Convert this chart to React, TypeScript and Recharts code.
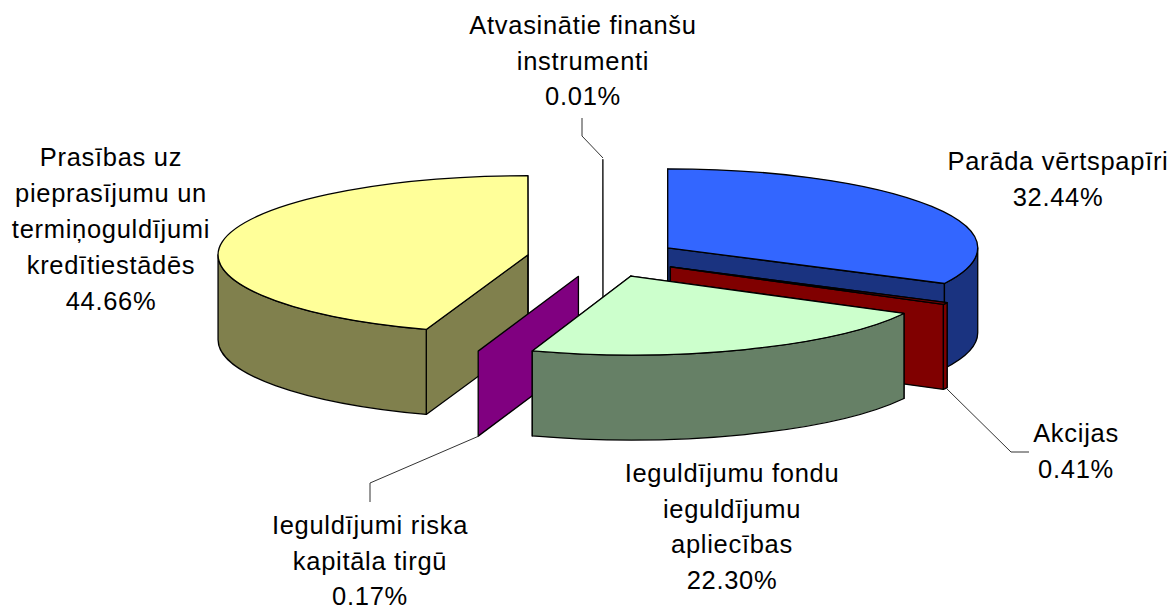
import { Pie, PieChart } from "recharts";

const NAMES = [
  "Parāda vērtspapīri",
  "Akcijas",
  "Ieguldījumu fondu ieguldījumu apliecības",
  "Ieguldījumi riska kapitāla tirgū",
  "Prasības uz pieprasījumu un termiņoguldījumi kredītiestādēs",
  "Atvasinātie finanšu instrumenti",
];
const VALUES = [32.44, 0.41, 22.3, 0.17, 44.66, 0.01];
const TOP_COLORS = ["#3366ff", "#800000", "#ccffcc", "#800080", "#ffff99", "#ccffff"];
const SIDE_COLORS = ["#1a3380", "#800000", "#668066", "#800080", "#80804d", "#668080"];
const LABEL_LINES = [
  ["Parāda vērtspapīri"],
  ["Akcijas"],
  ["Ieguldījumu fondu", "ieguldījumu", "apliecības"],
  ["Ieguldījumi riska", "kapitāla tirgū"],
  ["Prasības uz", "pieprasījumu un", "termiņoguldījumi", "kredītiestādēs"],
  ["Atvasinātie finanšu", "instrumenti"],
];

// back to front, the slices overlap each other
const DRAW_ORDER = [5, 0, 1, 4, 3, 2];

const CX = 603;
const CY = 258;
const RADIUS = 310;
const SQUASH = 0.255;
const DEPTH = 85;
const EXPLODE = 76;
const RAD = Math.PI / 180;

const LABEL_POS = [
  { x: 1058, y: 170, step: 36 },
  { x: 1076, y: 442, step: 36 },
  { x: 732, y: 482, step: 35.5 },
  { x: 370, y: 534, step: 35.5 },
  { x: 111, y: 166, step: 36 },
  { x: 583, y: 34, step: 35.5 },
];
const LEADERS: Record<number, string> = {
  1: "947,389 1011,452 1029,452",
  3: "479,436 370,483 370,502",
  5: "603,158 582,136 582,118",
};

const pieData = NAMES.map((name, i) => ({ name, value: VALUES[i], fill: TOP_COLORS[i] }));

function Slice3D(props: any) {
  const { cx, cy, outerRadius: r, startAngle, endAngle } = props;
  const idx = NAMES.indexOf(props.name ?? props.payload?.name);
  const midDeg = (startAngle + endAngle) / 2;
  const mid = midDeg * RAD;
  const ox = cx + EXPLODE * Math.cos(mid);
  const oy = cy - EXPLODE * Math.sin(mid) * SQUASH;
  const ry = r * SQUASH;

  const rim = (deg: number, drop = 0) =>
    `${ox + r * Math.cos(deg * RAD)} ${oy - ry * Math.sin(deg * RAD) + drop}`;
  const large = startAngle - endAngle > 180 ? 1 : 0;

  const cutFace = (deg: number) =>
    `M${ox} ${oy}L${rim(deg)}L${rim(deg, DEPTH)}L${ox} ${oy + DEPTH}Z`;

  const side = SIDE_COLORS[idx];
  const stroke = { stroke: "#000", strokeWidth: 1.3, strokeLinejoin: "round" as const };

  // slices under a degree read as one flat face
  if (startAngle - endAngle < 1) {
    return <path d={cutFace(midDeg)} fill={side} {...stroke} />;
  }

  // only the front half of the rim shows a wall
  const wallStart = Math.min(startAngle, 0);
  const wallEnd = Math.max(endAngle, -180);

  return (
    <g {...stroke}>
      <path d={cutFace(startAngle)} fill={side} />
      <path d={cutFace(endAngle)} fill={side} />
      {wallStart > wallEnd && (
        <path
          d={`M${rim(wallStart)}A${r} ${ry} 0 0 1 ${rim(wallEnd)}L${rim(wallEnd, DEPTH)}A${r} ${ry} 0 0 0 ${rim(wallStart, DEPTH)}Z`}
          fill={side}
        />
      )}
      <path
        d={`M${ox} ${oy}L${rim(startAngle)}A${r} ${ry} 0 ${large} 1 ${rim(endAngle)}Z`}
        fill={TOP_COLORS[idx]}
      />
    </g>
  );
}

function SliceLabel(props: any) {
  const idx = NAMES.indexOf(props.name ?? props.payload?.name);
  const pos = LABEL_POS[idx];
  const lines = [...LABEL_LINES[idx], `${VALUES[idx].toFixed(2)}%`];
  return (
    <g>
      {LEADERS[idx] && <polyline points={LEADERS[idx]} fill="none" stroke="#333" strokeWidth={1} />}
      <text
        textAnchor="middle"
        fontFamily="'Liberation Sans', Arial, sans-serif"
        fontSize={25.5}
        letterSpacing={0.7}
        fill="#000"
      >
        {lines.map((line, i) => (
          <tspan key={i} x={pos.x} y={pos.y + i * pos.step}>
            {line}
          </tspan>
        ))}
      </text>
    </g>
  );
}

export default function App() {
  return (
    <div style={{ position: "absolute", left: 0, top: 0, width: 1175, height: 609 }}>
      <PieChart width={1175} height={609} margin={{ top: 0, right: 0, bottom: 0, left: 0 }}>
        {DRAW_ORDER.map((sliceIdx, layer) => (
          <Pie
            key={sliceIdx}
            data={pieData}
            dataKey="value"
            nameKey="name"
            cx={CX}
            cy={CY}
            innerRadius={0}
            outerRadius={RADIUS}
            startAngle={90}
            endAngle={-270}
            stroke="none"
            isAnimationActive={false}
            labelLine={false}
            label={layer === DRAW_ORDER.length - 1 ? (p: any) => <SliceLabel {...p} /> : false}
            shape={(p: any) =>
              NAMES.indexOf(p.name ?? p.payload?.name) === sliceIdx ? <Slice3D {...p} /> : <g />
            }
          />
        ))}
      </PieChart>
    </div>
  );
}
